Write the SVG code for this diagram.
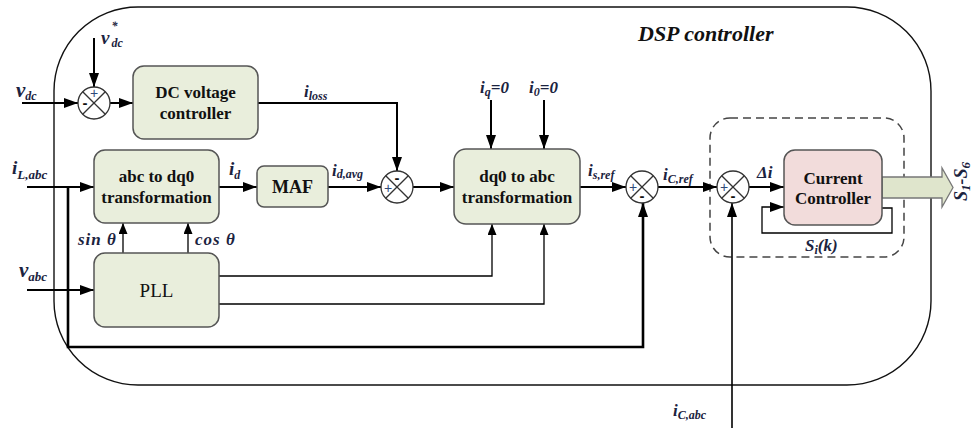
<svg xmlns="http://www.w3.org/2000/svg" width="975" height="428" viewBox="0 0 975 428">
  <defs>
    <marker id="ah" markerUnits="userSpaceOnUse" markerWidth="14" markerHeight="10" refX="14" refY="5" orient="auto">
      <path d="M0,0 L14,5 L0,10 z" fill="#000"/>
    </marker>
    <marker id="ahs" markerUnits="userSpaceOnUse" markerWidth="11" markerHeight="9" refX="11" refY="4.5" orient="auto">
      <path d="M0,0 L11,4.5 L0,9 z" fill="#000"/>
    </marker>
    <style>
      .blk { fill: #e9eedc; stroke: #555; stroke-width: 1.5; }
      .cc { fill: #f2dcdb; stroke: #555; stroke-width: 1.5; }
      .sum circle { fill: #fff; stroke: #333; stroke-width: 1.3; }
      .sum line { stroke: #333; stroke-width: 1.3; }
      text { font-family: "Liberation Serif", "Times New Roman", "DejaVu Serif", serif; }
      .bt { font-weight: bold; font-size: 17px; fill: #111; text-anchor: middle; }
      .lb { font-weight: bold; font-style: italic; font-size: 19px; fill: #1b2340; }
      .ls { font-weight: bold; font-style: italic; font-size: 17px; fill: #1b2340; }
      .sub { font-size: 12px; }
      .plus { font-family: "Liberation Sans", sans-serif; font-size: 14px; fill: #2e4a7a; text-anchor: middle; }
      .minus { font-family: "Liberation Sans", sans-serif; font-size: 15px; font-weight: bold; fill: #111; text-anchor: middle; }
      .w { fill: none; stroke: #000; stroke-width: 2; }
      .t { fill: none; stroke: #000; stroke-width: 1.3; }
      .k { fill: none; stroke: #000; stroke-width: 2.6; }
    </style>
  </defs>

  <!-- controller enclosure -->
  <rect x="54" y="7" width="877" height="378" rx="84" fill="none" stroke="#111" stroke-width="1.4"/>
  <text x="638" y="41" style="font-weight:bold;font-style:italic;font-size:22px;fill:#111">DSP controller</text>

  <!-- current-control loop region -->
  <rect x="710" y="118" width="194" height="139" rx="20" fill="none" stroke="#444" stroke-width="1.5" stroke-dasharray="8,5"/>

  <!-- connectors -->
  <g id="connectors">
    <path class="w" d="M22,103 H78" marker-end="url(#ah)"/>
    <path class="w" d="M94,38 V87" marker-end="url(#ah)"/>
    <path class="w" d="M110,103 H133" marker-end="url(#ah)"/>
    <path class="w" d="M258,103 H397 V171" marker-end="url(#ah)"/>
    <path class="w" d="M27,187 H94" marker-end="url(#ah)"/>
    <path class="k" d="M68,187 V347 H643 V203" marker-end="url(#ah)"/>
    <path class="w" d="M219,187 H257" marker-end="url(#ah)"/>
    <path class="w" d="M328,187 H381" marker-end="url(#ah)"/>
    <path class="w" d="M413,187 H454" marker-end="url(#ah)"/>
    <path class="w" d="M491,100 V149" marker-end="url(#ah)"/>
    <path class="w" d="M544,100 V149" marker-end="url(#ah)"/>
    <path class="w" d="M580,187 H626" marker-end="url(#ah)"/>
    <path class="w" d="M658,187 H717" marker-end="url(#ah)"/>
    <path class="w" d="M749,187 H784" marker-end="url(#ah)"/>
    <path class="t" d="M882,208 H892 V233 H762 V207 H784" marker-end="url(#ah)"/>
    <path class="t" d="M732,428 V203" style="stroke-width:1.6" marker-end="url(#ah)"/>
    <path class="w" d="M27,290 H94" marker-end="url(#ah)"/>
    <path class="t" d="M123,253 V223" marker-end="url(#ahs)"/>
    <path class="t" d="M188,253 V223" marker-end="url(#ahs)"/>
    <path class="t" d="M219,276 H492 V224" marker-end="url(#ahs)"/>
    <path class="t" d="M219,304 H544 V224" marker-end="url(#ahs)"/>
    <!-- switching signals -->
    <polygon points="882,177 942,177 942,168 953,187.5 942,207 942,198 882,198" fill="#dfe5cc" stroke="#777" stroke-width="1.3"/>
  </g>

  <!-- summing junctions -->
  <g id="sum1" class="sum">
    <circle cx="94" cy="103" r="16"/>
    <line x1="82.7" y1="91.7" x2="105.3" y2="114.3"/>
    <line x1="105.3" y1="91.7" x2="82.7" y2="114.3"/>
    <text class="plus" x="94" y="98">+</text>
    <text class="minus" x="85" y="108">-</text>
  </g>
  <g id="sum2" class="sum">
    <circle cx="397" cy="187" r="16"/>
    <line x1="385.7" y1="175.7" x2="408.3" y2="198.3"/>
    <line x1="408.3" y1="175.7" x2="385.7" y2="198.3"/>
    <text class="minus" x="397" y="183">-</text>
    <text class="plus" x="388" y="193">+</text>
  </g>
  <g id="sum3" class="sum">
    <circle cx="642" cy="187" r="16"/>
    <line x1="630.7" y1="175.7" x2="653.3" y2="198.3"/>
    <line x1="653.3" y1="175.7" x2="630.7" y2="198.3"/>
    <text class="plus" x="633" y="192">+</text>
    <text class="minus" x="642" y="201">-</text>
  </g>
  <g id="sum4" class="sum">
    <circle cx="733" cy="187" r="16"/>
    <line x1="721.7" y1="175.7" x2="744.3" y2="198.3"/>
    <line x1="744.3" y1="175.7" x2="721.7" y2="198.3"/>
    <text class="plus" x="724" y="192">+</text>
    <text class="minus" x="733" y="201">-</text>
  </g>

  <!-- blocks -->
  <g id="dc-controller">
    <rect class="blk" x="133" y="66" width="125" height="73" rx="11"/>
    <text class="bt" x="195.5" y="98">DC voltage</text>
    <text class="bt" x="195.5" y="119">controller</text>
  </g>
  <g id="abc-dq0">
    <rect class="blk" x="94" y="150" width="125" height="73" rx="11"/>
    <text class="bt" x="156.5" y="182">abc to dq0</text>
    <text class="bt" x="156.5" y="203">transformation</text>
  </g>
  <g id="maf">
    <rect class="blk" x="257" y="166" width="71" height="41" rx="7"/>
    <text class="bt" x="292.5" y="193" style="font-size:18px">MAF</text>
  </g>
  <g id="dq0-abc">
    <rect class="blk" x="454" y="149" width="126" height="75" rx="12"/>
    <text class="bt" x="517" y="182">dq0 to abc</text>
    <text class="bt" x="517" y="203">transformation</text>
  </g>
  <g id="pll">
    <rect class="blk" x="94" y="253" width="125" height="74" rx="11"/>
    <text class="bt" x="156.5" y="297" style="font-weight:normal;font-size:19px">PLL</text>
  </g>
  <g id="current-controller">
    <rect class="cc" x="784" y="150" width="98" height="75" rx="11"/>
    <text class="bt" x="833" y="184">Current</text>
    <text class="bt" x="833" y="204">Controller</text>
  </g>

  <!-- signal labels -->
  <g id="labels">
    <text class="lb" x="101" y="44">v<tspan class="sub" dy="-14" dx="2">*</tspan><tspan class="sub" dy="17" dx="-6">dc</tspan></text>
    <text class="lb" x="16" y="97" style="font-size:21px">v<tspan class="sub" dy="3">dc</tspan></text>
    <text class="lb" x="12" y="174">i<tspan class="sub" style="font-size:13px" dy="5">L,abc</tspan></text>
    <text class="lb" x="19" y="277" style="font-size:21px">v<tspan class="sub" style="font-size:13px" dy="4">abc</tspan></text>
    <text class="lb" x="229" y="175">i<tspan class="sub" dy="4">d</tspan></text>
    <text class="ls" x="304" y="97">i<tspan class="sub" dy="3">loss</tspan></text>
    <text class="ls" x="332" y="176">i<tspan class="sub" dy="2">d,avg</tspan></text>
    <text class="ls" x="480" y="93">i<tspan class="sub" dy="3">q</tspan><tspan dy="-3">=0</tspan></text>
    <text class="ls" x="529" y="93">i<tspan class="sub" dy="3">0</tspan><tspan dy="-3">=0</tspan></text>
    <text class="ls" x="588" y="176">i<tspan class="sub" dy="3">s,ref</tspan></text>
    <text class="ls" x="663" y="180">i<tspan class="sub" dy="3">C,ref</tspan></text>
    <text class="ls" x="757" y="178">Δi</text>
    <text class="ls" x="805" y="251">S<tspan class="sub" dy="3">i</tspan><tspan dy="-3">(k)</tspan></text>
    <text class="ls" x="673" y="416">i<tspan class="sub" dy="3">C,abc</tspan></text>
    <text class="ls" x="78" y="245" letter-spacing="1">sin θ</text>
    <text class="ls" x="195" y="245" letter-spacing="1">cos θ</text>
    <text class="ls" style="font-size:18px" transform="translate(967,201) rotate(-90)">S<tspan class="sub" style="font-size:13px" dy="3">1</tspan><tspan dy="-3">-S</tspan><tspan class="sub" style="font-size:13px" dy="3">6</tspan></text>
  </g>
</svg>
